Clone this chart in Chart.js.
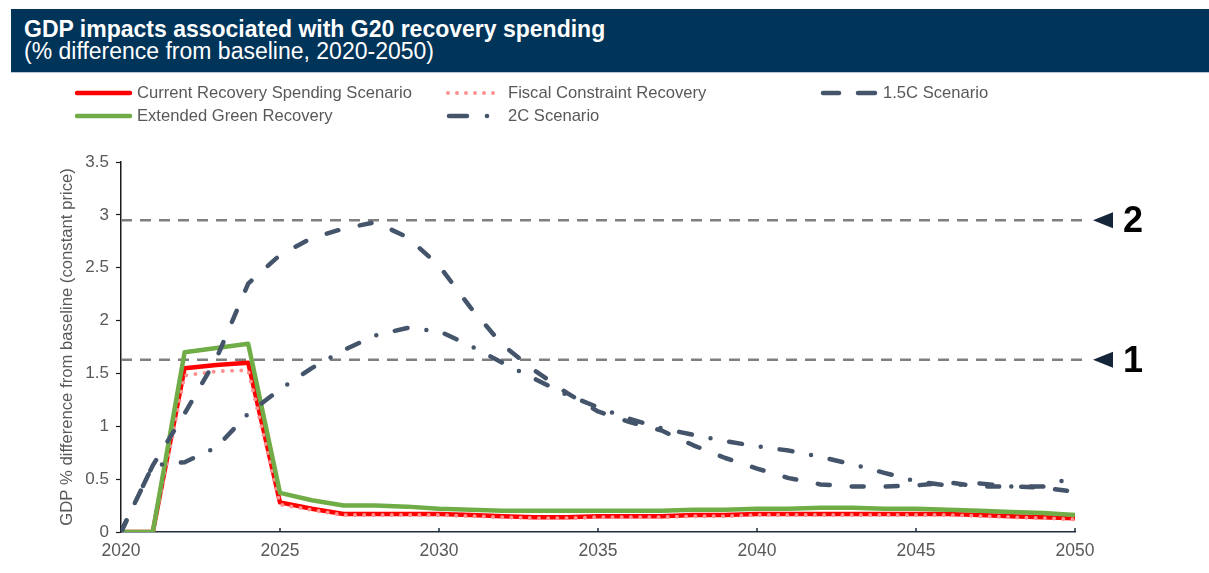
<!DOCTYPE html>
<html>
<head>
<meta charset="utf-8">
<script src="https://cdn.jsdelivr.net/npm/chart.js@4.4.1/dist/chart.umd.min.js"></script>
<style>
  html, body { margin:0; padding:0; background:#fff; width:1209px; height:573px; overflow:hidden; font-family:"Liberation Sans", Arial, sans-serif; }
  #wrap { position:relative; width:1209px; height:573px; }
  #chart { position:absolute; left:0; top:0; }
  #header { position:absolute; left:11px; top:9px; width:1198px; height:63px; background:#013459; border-bottom:1px solid #b7c7d8; }
  #t1 { position:absolute; left:13px; top:7px; color:#fff; font-weight:bold; font-size:23px; line-height:26px; white-space:nowrap; }
  #t2 { position:absolute; left:13px; top:29px; color:#fff; font-size:23px; line-height:26px; white-space:nowrap; }
  .lg { position:absolute; font-size:16.6px; color:#595959; white-space:nowrap; line-height:18px; }
  svg.s { position:absolute; }
</style>
</head>
<body>
<div id="wrap">
  <canvas id="chart" width="1209" height="573"></canvas>
  <div id="header"><div id="t1">GDP impacts associated with G20 recovery spending</div><div id="t2">(% difference from baseline, 2020-2050)</div></div>
  <div id="legend"></div>
</div>
<script>
// ---- data ----
const years = [2020,2021,2022,2023,2024,2025,2026,2027,2028,2029,2030,2031,2032,2033,2034,2035,2036,2037,2038,2039,2040,2041,2042,2043,2044,2045,2046,2047,2048,2049,2050];
const currentRecovery = [0,0,1.55,1.58,1.60,0.28,0.22,0.17,0.17,0.17,0.17,0.16,0.15,0.14,0.14,0.15,0.15,0.15,0.16,0.16,0.17,0.17,0.17,0.17,0.17,0.17,0.17,0.16,0.15,0.14,0.13];
const fiscalConstraint = [0,0,1.48,1.52,1.53,0.26,0.21,0.16,0.16,0.16,0.16,0.15,0.14,0.13,0.13,0.14,0.14,0.14,0.15,0.15,0.16,0.16,0.16,0.16,0.16,0.16,0.16,0.15,0.14,0.13,0.12];
const extendedGreen = [0,0,1.70,1.74,1.78,0.37,0.30,0.25,0.25,0.24,0.22,0.21,0.20,0.20,0.20,0.20,0.20,0.20,0.21,0.21,0.22,0.22,0.23,0.23,0.22,0.22,0.21,0.20,0.19,0.18,0.16];
const scenario15C = [0,0.63,1.12,1.64,2.35,2.62,2.78,2.87,2.93,2.79,2.52,2.12,1.77,1.53,1.32,1.14,1.04,0.96,0.82,0.70,0.60,0.51,0.45,0.43,0.43,0.44,0.47,0.43,0.43,0.42,0.38];
const scenario2C = [0,0.63,0.66,0.80,1.12,1.35,1.55,1.72,1.86,1.93,1.90,1.76,1.60,1.45,1.30,1.18,1.07,0.98,0.92,0.86,0.81,0.77,0.71,0.64,0.56,0.48,0.44,0.46,0.43,0.43,0.52];
const yTicks = [0,0.5,1,1.5,2,2.5,3,3.5];
const xTicks = [2020,2025,2030,2035,2040,2045,2050];
const refLevels = [2.95, 1.63];
const refLabels = ['2', '1'];
const seriesNames = ['Current Recovery Spending Scenario','Fiscal Constraint Recovery','1.5C Scenario','Extended Green Recovery','2C Scenario'];

const pts = arr => years.map((y,i) => ({x:y, y:arr[i]}));
const FONT = '"Liberation Sans", Arial, sans-serif';

// ---- legend (HTML) ----
const legendDefs = [
  {name:seriesNames[0], x:75, y:93, tx:137, sample:'<line x1="2" y1="6" x2="55" y2="6" stroke="#FF0000" stroke-width="4.5" stroke-linecap="round"/>'},
  {name:seriesNames[1], x:445, y:93, tx:508, sample:'<line x1="3" y1="6" x2="57" y2="6" stroke="#FF9191" stroke-width="4" stroke-linecap="round" stroke-dasharray="0 9"/>'},
  {name:seriesNames[2], x:820, y:93, tx:883, sample:'<line x1="3" y1="6" x2="19" y2="6" stroke="#44546A" stroke-width="4.5" stroke-linecap="round"/><line x1="38" y1="6" x2="55" y2="6" stroke="#44546A" stroke-width="4.5" stroke-linecap="round"/>'},
  {name:seriesNames[3], x:75, y:116, tx:137, sample:'<line x1="2" y1="6" x2="55" y2="6" stroke="#70AD47" stroke-width="4.5" stroke-linecap="round"/>'},
  {name:seriesNames[4], x:445, y:116, tx:508, sample:'<line x1="4" y1="6" x2="22" y2="6" stroke="#44546A" stroke-width="4.5" stroke-linecap="round"/><circle cx="42" cy="6" r="2.3" fill="#44546A"/>'}
];
const lg = document.getElementById('legend');
legendDefs.forEach(d => {
  const svg = `<svg class="s" width="62" height="12" style="left:${d.x}px;top:${d.y-6}px">${d.sample}</svg>`;
  lg.insertAdjacentHTML('beforeend', svg + `<div class="lg" style="left:${d.tx}px;top:${d.y-9}px">${d.name}</div>`);
});

// ---- plugin: reference lines, arrows, inner x ticks ----
const extras = {
  id:'extras',
  beforeDatasetsDraw(chart){
    const {ctx, chartArea, scales} = chart;
    ctx.save();
    ctx.strokeStyle = '#7F7F7F';
    ctx.lineWidth = 2.5;
    ctx.setLineDash([11, 8]);
    refLevels.forEach(v => {
      const y = scales.y.getPixelForValue(v);
      ctx.beginPath();
      ctx.moveTo(chartArea.left, y);
      ctx.lineTo(chartArea.right + 10, y);
      ctx.stroke();
    });
    ctx.setLineDash([]);
    ctx.strokeStyle = '#1F2D3D';
    ctx.lineWidth = 1.5;
    xTicks.forEach(t => {
      const x = scales.x.getPixelForValue(t);
      ctx.beginPath();
      ctx.moveTo(x, chartArea.bottom);
      ctx.lineTo(x, chartArea.bottom - 4);
      ctx.stroke();
    });
    ctx.restore();
  },
  afterDraw(chart){
    const {ctx, chartArea, scales} = chart;
    ctx.save();
    refLevels.forEach((v,i) => {
      const y = scales.y.getPixelForValue(v);
      const x0 = chartArea.right + 18;
      ctx.fillStyle = '#16263A';
      ctx.beginPath();
      ctx.moveTo(x0, y);
      ctx.lineTo(x0 + 20, y - 8);
      ctx.lineTo(x0 + 20, y + 8);
      ctx.closePath();
      ctx.fill();
      ctx.fillStyle = '#000';
      ctx.font = 'bold 36px ' + FONT;
      ctx.textBaseline = 'middle';
      ctx.textAlign = 'left';
      ctx.fillText(refLabels[i], x0 + 30, y + 2);
    });
    ctx.restore();
  }
};

new Chart(document.getElementById('chart'), {
  type:'line',
  data:{
    datasets:[
      {label:seriesNames[0], data:pts(currentRecovery), borderColor:'#FF0000', borderWidth:4.5, order:4},
      {label:seriesNames[1], data:pts(fiscalConstraint), borderColor:'#FF9191', borderWidth:4, borderDash:[0,9.2], borderCapStyle:'round', order:3},
      {label:seriesNames[3], data:pts(extendedGreen), borderColor:'#70AD47', borderWidth:4.5, order:2},
      {label:seriesNames[4], data:pts(scenario2C), borderColor:'#44546A', borderWidth:4.5, borderDash:[13,19,0,19], borderCapStyle:'round', order:1},
      {label:seriesNames[2], data:pts(scenario15C), borderColor:'#44546A', borderWidth:4.5, borderDash:[12,22], borderCapStyle:'round', order:0}
    ]
  },
  options:{
    responsive:false,
    animation:false,
    events:[],
    elements:{ point:{radius:0}, line:{tension:0, borderJoinStyle:'round', fill:false} },
    layout:{ padding:{left:55, top:162, right:134, bottom:0} },
    plugins:{ legend:{display:false}, tooltip:{enabled:false}, title:{display:false} },
    scales:{
      x:{
        type:'linear', min:2020, max:2050,
        afterFit(s){ s.height = 41; },
        afterBuildTicks(s){ s.ticks = xTicks.map(v => ({value:v})); },
        grid:{ display:false, drawTicks:false },
        border:{ display:true, color:'#1F2D3D', width:1.5 },
        ticks:{ padding:9, color:'#595959', font:{size:17.5, family:FONT}, maxRotation:0, autoSkip:false, callback:v => String(v) }
      },
      y:{
        min:0, max:3.5,
        afterFit(s){ s.width = 66; },
        afterBuildTicks(s){ s.ticks = yTicks.map(v => ({value:v})); },
        grid:{ display:true, drawOnChartArea:false, drawTicks:true, tickLength:5, color:'#1a1a1a', tickWidth:1.2 },
        border:{ display:true, color:'#1a1a1a', width:1.5 },
        ticks:{ padding:7, color:'#595959', font:{size:17, family:FONT}, callback:v => String(v) },
        title:{ display:true, text:'GDP % difference from baseline (constant price)', color:'#595959', font:{size:16.7, family:FONT}, padding:{top:2, bottom:0} }
      }
    }
  },
  plugins:[extras]
});
</script>
</body>
</html>
